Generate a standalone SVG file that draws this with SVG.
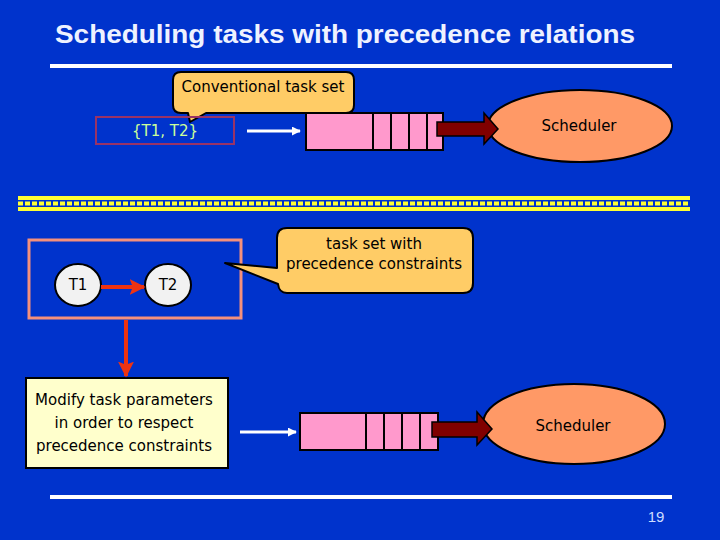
<svg xmlns="http://www.w3.org/2000/svg" width="720" height="540" viewBox="0 0 720 540">
<defs>
<style>
.t{font-family:"Comic Sans MS","DejaVu Sans",sans-serif;font-size:15px;fill:#000;text-anchor:middle}
.callout{fill:#ffcc66;stroke:#000;stroke-width:2;stroke-linejoin:round}
.queue{fill:#ff99cc;stroke:#000;stroke-width:2}
.div{stroke:#000;stroke-width:2}
.sched{fill:#ff9966;stroke:#000;stroke-width:2}
.block{fill:#800000;stroke:#000;stroke-width:1.5;stroke-linejoin:miter}
.wline{stroke:#fff;stroke-width:3;fill:none}
.task{fill:#f2f2f2;stroke:#000;stroke-width:2}
.red{stroke:#ee3311;stroke-width:4;fill:none}
</style>
<marker id="wh" viewBox="0 0 10 10" refX="9" refY="5" markerWidth="3" markerHeight="3" orient="auto" markerUnits="strokeWidth">
<path d="M0,0 L10,5 L0,10 Z" fill="#fff"/>
</marker>
<marker id="rh" viewBox="0 0 10 10" refX="9" refY="5" markerWidth="4" markerHeight="4" orient="auto" markerUnits="strokeWidth">
<path d="M0,0 L10,5 L0,10 L2,5 Z" fill="#ee3311"/>
</marker>
</defs>
<rect width="720" height="540" fill="#0033cc"/>
<text x="55" y="43" font-family="Liberation Sans, Arial, sans-serif" font-weight="bold" font-size="25" fill="#eef2ff" textLength="580" lengthAdjust="spacingAndGlyphs">Scheduling tasks with precedence relations</text>
<rect x="50" y="64" width="622" height="4" fill="#fff"/>
<rect x="50" y="495" width="622" height="4" fill="#fff"/>
<text x="656" y="522" font-family="Liberation Sans, Arial, sans-serif" font-size="15" fill="#ccddff" text-anchor="middle">19</text>
<g id="separator">
<rect x="18" y="196" width="672" height="4" fill="#ffff33"/>
<line x1="18" y1="203.5" x2="690" y2="203.5" stroke="#ffff33" stroke-width="4" stroke-dasharray="5 2"/>
<rect x="18" y="207" width="672" height="4" fill="#ffff33"/>
</g>
<g id="callout-conventional">
<path class="callout" d="M181,72 H346 Q354,72 354,80 V105 Q354,113 346,113 H206 L190,122 L188,113 H181 Q173,113 173,105 V80 Q173,72 181,72 Z"/>
<text class="t" x="263" y="92">Conventional task set</text>
</g>
<g id="taskset-top">
<rect x="96" y="117" width="138" height="27" fill="none" stroke="#993366" stroke-width="2"/>
<text x="165" y="136" font-family="'Comic Sans MS','DejaVu Sans',sans-serif" font-size="15" fill="#ccff99" text-anchor="middle">{T1, T2}</text>
</g>
<g id="queue-top">
<rect class="queue" x="306" y="113" width="137" height="37"/>
<line class="div" x1="373" y1="113" x2="373" y2="150"/>
<line class="div" x1="391" y1="113" x2="391" y2="150"/>
<line class="div" x1="409" y1="113" x2="409" y2="150"/>
<line class="div" x1="427" y1="113" x2="427" y2="150"/>
</g>
<g id="scheduler-top">
<ellipse class="sched" cx="580" cy="126" rx="92" ry="36"/>
<text class="t" x="579" y="131">Scheduler</text>
</g>
<g id="precedence-box">
<rect x="29" y="240" width="212" height="78" fill="none" stroke="#f4907c" stroke-width="3"/>
</g>
<g id="T1">
<ellipse class="task" cx="78" cy="285" rx="23" ry="21"/>
<text class="t" x="78" y="290">T1</text>
</g>
<g id="T2">
<ellipse class="task" cx="168" cy="285" rx="23" ry="21"/>
<text class="t" x="168" y="290">T2</text>
</g>
<g id="callout-precedence">
<path class="callout" d="M287,228 H463 Q473,228 473,238 V283 Q473,293 463,293 H287 Q279,293 278,284 L225,263 L277,268 V238 Q277,228 287,228 Z"/>
<text class="t" x="374" y="249">task set with</text>
<text class="t" x="374" y="269">precedence constraints</text>
</g>
<g id="modify">
<rect x="26" y="378" width="202" height="90" fill="#ffffcc" stroke="#000" stroke-width="2"/>
<text class="t" x="124" y="405">Modify task parameters</text>
<text class="t" x="124" y="428">in order to respect</text>
<text class="t" x="124" y="451">precedence constraints</text>
</g>
<g id="queue-bottom">
<rect class="queue" x="300" y="413" width="138" height="37"/>
<line class="div" x1="366" y1="413" x2="366" y2="450"/>
<line class="div" x1="384" y1="413" x2="384" y2="450"/>
<line class="div" x1="402" y1="413" x2="402" y2="450"/>
<line class="div" x1="420" y1="413" x2="420" y2="450"/>
</g>
<g id="scheduler-bottom">
<ellipse class="sched" cx="574" cy="424" rx="91" ry="40"/>
<text class="t" x="573" y="431">Scheduler</text>
</g>
<g id="connectors">
<line class="wline" x1="247" y1="131" x2="300" y2="131" marker-end="url(#wh)"/>
<line class="wline" x1="240" y1="432" x2="296" y2="432" marker-end="url(#wh)"/>
<line class="red" x1="101" y1="287" x2="144" y2="287" marker-end="url(#rh)"/>
<line class="red" x1="126" y1="320" x2="126" y2="376" marker-end="url(#rh)"/>
<path class="block" d="M437,122 H484 V113 L498,129 L484,144 V136 H437 Z"/>
<path class="block" d="M432,422 H477 V412 L492,429 L477,445 V437 H432 Z"/>
</g>
</svg>
